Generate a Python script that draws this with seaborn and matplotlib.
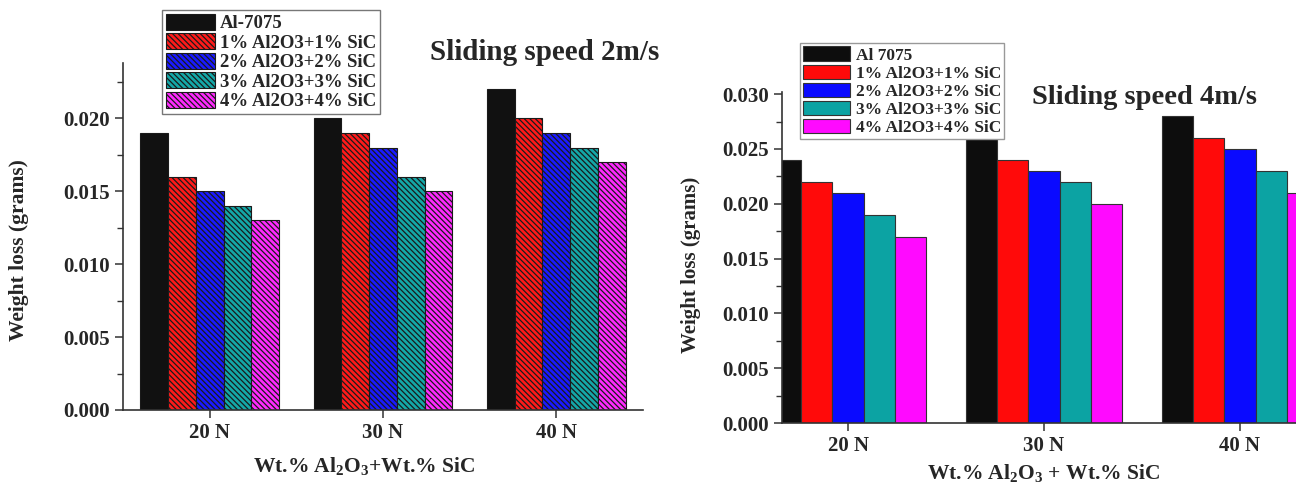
import numpy as np
import pandas as pd
import matplotlib
matplotlib.use('Agg')
import matplotlib.pyplot as plt
import seaborn as sns
from matplotlib.ticker import MultipleLocator, FormatStrFormatter

# data
loads = ['20 N', '30 N', '40 N']

labels_2ms = ['Al-7075', '1% Al2O3+1% SiC', '2% Al2O3+2% SiC',
              '3% Al2O3+3% SiC', '4% Al2O3+4% SiC']
base_2ms = [0.019, 0.020, 0.022]
c1_2ms = [0.016, 0.019, 0.020]
c2_2ms = [0.015, 0.018, 0.019]
c3_2ms = [0.014, 0.016, 0.018]
c4_2ms = [0.013, 0.015, 0.017]

labels_4ms = ['Al 7075', '1% Al2O3+1% SiC', '2% Al2O3+2% SiC',
              '3% Al2O3+3% SiC', '4% Al2O3+4% SiC']
base_4ms = [0.024, 0.026, 0.028]
c1_4ms = [0.022, 0.024, 0.026]
c2_4ms = [0.021, 0.023, 0.025]
c3_4ms = [0.019, 0.022, 0.023]
c4_4ms = [0.017, 0.020, 0.021]

colors_2ms = ['#111111', '#ff1a1a', '#1a1aff', '#14a8a8', '#ff2aff']
colors_4ms = ['#0d0d0d', '#ff0a0a', '#0a0aff', '#0ca3a3', '#ff0aff']

df2 = pd.DataFrame({
    'load': loads * 5,
    'alloy': np.repeat(labels_2ms, 3),
    'loss': base_2ms + c1_2ms + c2_2ms + c3_2ms + c4_2ms,
})
df4 = pd.DataFrame({
    'load': loads * 5,
    'alloy': np.repeat(labels_4ms, 3),
    'loss': base_4ms + c1_4ms + c2_4ms + c3_4ms + c4_4ms,
})

sns.set_style('ticks')
plt.rcParams['font.family'] = ['Liberation Serif', 'DejaVu Serif']
plt.rcParams['font.weight'] = 'bold'
plt.rcParams['mathtext.fontset'] = 'custom'
plt.rcParams['mathtext.rm'] = 'Liberation Serif:bold'
plt.rcParams['mathtext.it'] = 'Liberation Serif:bold'
plt.rcParams['mathtext.bf'] = 'Liberation Serif:bold'
plt.rcParams['hatch.linewidth'] = 0.9

fig = plt.figure(figsize=(12.96, 4.84), dpi=100)
ax1 = fig.add_axes([0.0949, 0.1529, 0.4012, 0.717])
ax2 = fig.add_axes([0.6034, 0.126, 0.3966, 0.684])

sns.barplot(data=df2, x='load', y='loss', hue='alloy', hue_order=labels_2ms,
            palette=colors_2ms, saturation=1, width=0.8, ax=ax1,
            edgecolor='#1a1a1a', linewidth=0.8, legend=False)
sns.barplot(data=df4, x='load', y='loss', hue='alloy', hue_order=labels_4ms,
            palette=colors_4ms, saturation=1, width=0.8, ax=ax2,
            edgecolor='#333333', linewidth=0.8, legend=False)

# hatched bars on the 2 m/s panel
for cont in ax1.containers[1:]:
    for bar in cont:
        bar.set_hatch('\\' * 6)

for ax in (ax1, ax2):
    sns.despine(ax=ax)
    for s in ('left', 'bottom'):
        ax.spines[s].set_color('#333333')
        ax.spines[s].set_linewidth(1.2)
    ax.yaxis.set_major_locator(MultipleLocator(0.005))
    ax.yaxis.set_minor_locator(MultipleLocator(0.0025))
    ax.yaxis.set_major_formatter(FormatStrFormatter('%.3f'))
    ax.tick_params(axis='both', which='major', direction='out', length=6,
                   width=1.1, color='#333333', labelsize=15)
    ax.tick_params(axis='y', which='minor', direction='out', length=4,
                   width=1.0, color='#333333')
    for lab in ax.get_xticklabels() + ax.get_yticklabels():
        lab.set_fontweight('bold')

ax1.set_xlim(-0.5, 2.5)
ax1.set_ylim(0, 0.0238)
ax2.set_xlim(-0.337, 2.286)
ax2.set_ylim(0, 0.0302)

xlab_2 = r'Wt.% Al$_2$O$_3$+Wt.% SiC'
xlab_4 = r'Wt.% Al$_2$O$_3$ + Wt.% SiC'
ax1.set_xlabel(xlab_2, fontsize=15.5, fontweight='bold')
ax2.set_xlabel(xlab_4, fontsize=15.5, fontweight='bold')
ax1.set_ylabel('Weight loss (grams)', fontsize=15.5, fontweight='bold')
ax2.set_ylabel('Weight loss (grams)', fontsize=15, fontweight='bold')
ax1.xaxis.set_label_coords(0.463, -0.13)
ax2.xaxis.set_label_coords(0.508, -0.118)
ax1.yaxis.set_label_coords(-0.18, 0.461)
ax2.yaxis.set_label_coords(-0.158, 0.477)

fig.text(545 / 1296, 1 - 52 / 484, 'Sliding speed 2m/s', fontsize=21,
         fontweight='bold', ha='center', va='center')
fig.text(1145 / 1296, 1 - 97 / 484, 'Sliding speed 4m/s', fontsize=20.5,
         fontweight='bold', ha='center', va='center')

leg1 = ax1.legend(handles=ax1.containers, labels=labels_2ms,
                  loc='upper left', bbox_to_anchor=(162 / 1296, 1 - 10 / 484),
                  bbox_transform=fig.transFigure, borderaxespad=0,
                  labelspacing=0.05, handlelength=2.6,
                  handleheight=0.95, handletextpad=0.3, borderpad=0.2,
                  fancybox=False, framealpha=1, edgecolor='#777777',
                  prop={'weight': 'bold', 'size': 13.5})
leg2 = ax2.legend(handles=ax2.containers, labels=labels_4ms,
                  loc='upper left', bbox_to_anchor=(800 / 1296, 1 - 43 / 484),
                  bbox_transform=fig.transFigure, borderaxespad=0,
                  labelspacing=0.05, handlelength=2.7,
                  handleheight=0.9, handletextpad=0.3, borderpad=0.2,
                  fancybox=False, framealpha=1, edgecolor='#999999',
                  prop={'weight': 'bold', 'size': 12.5})
leg1.set_zorder(5)
leg2.set_zorder(5)

fig.savefig('out.png', dpi=100)
